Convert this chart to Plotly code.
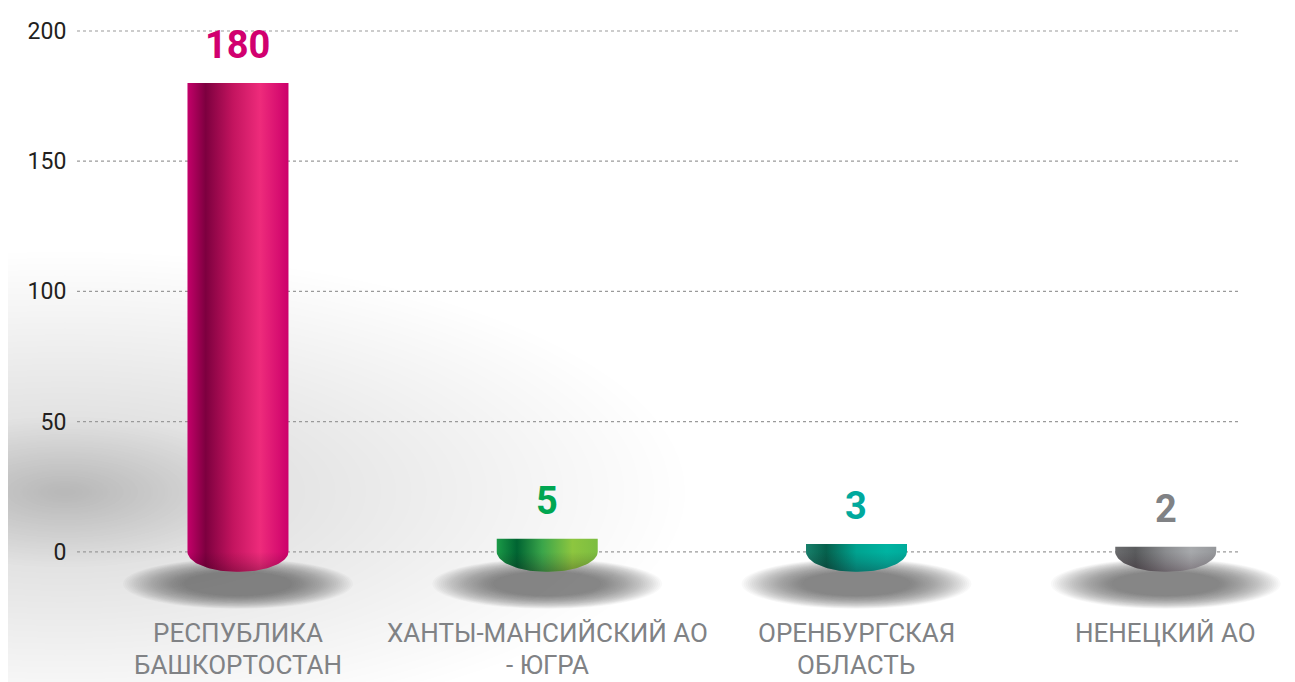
import numpy as np
import plotly.graph_objects as go

# ---------------- data ----------------
categories = ["РЕСПУБЛИКА\nБАШКОРТОСТАН", "ХАНТЫ-МАНСИЙСКИЙ АО\n- ЮГРА",
              "ОРЕНБУРГСКАЯ\nОБЛАСТЬ", "НЕНЕЦКИЙ АО"]
values = [180, 5, 3, 2]
y_ticks = [0, 50, 100, 150, 200]
label_colors = ["#d1006f", "#00a651", "#00a99d", "#808285"]
bar_gradients = [
    [[0, "#c4006a"], [0.18, "#7d003f"], [0.45, "#c3145f"], [0.72, "#ee2b7b"], [1, "#cc006b"]],
    [[0, "#1b9a47"], [0.20, "#006432"], [0.45, "#3aa54a"], [0.75, "#8dc63f"], [1, "#7cbd41"]],
    [[0, "#18806b"], [0.20, "#05604c"], [0.50, "#00a390"], [0.80, "#00b3a1"], [1, "#00ab9b"]],
    [[0, "#6b6c6e"], [0.20, "#5a5b5d"], [0.50, "#8b8c8f"], [0.75, "#a7a9ac"], [1, "#95979a"]],
]

# ---------------- layout geometry (page pixels) ----------------
PAGE_W, PAGE_H = 1295, 682
OFF = 8                      # default body margin of the html page
W, H = PAGE_W - OFF, PAGE_H - OFF
L, R, T, B = 75, 1295, 18, 656   # plot area in page pixels
X_RANGE = [-0.527, 3.418]
Y_RANGE = [-40, 205]
PX_X = (R - L) / (X_RANGE[1] - X_RANGE[0])
PX_Y = (B - T) / (Y_RANGE[1] - Y_RANGE[0])


def px_paper_x(px):
    return (px - L) / (R - L)


def px_paper_y(py):
    return (B - py) / (B - T)


bar_half = 50.5 / PX_X
cap_ry = 20 / PX_Y

fig = go.Figure()
shapes = []


def glow(cx, cy, rx_max, ry_max, n, op, color, smin=0.02):
    for k in range(n):
        s = 1 - (1 - smin) * k / n
        rx, ry = rx_max * s, ry_max * s
        shapes.append(dict(type="circle", xref="paper", yref="paper", layer="below",
                           x0=px_paper_x(cx - rx), x1=px_paper_x(cx + rx),
                           y0=px_paper_y(cy + ry), y1=px_paper_y(cy - ry),
                           fillcolor=color, opacity=op, line=dict(width=0)))


# background soft grey glow (broad haze + core)
glow(65, 492, 620, 240, 40, 0.0075, "rgb(120,121,124)")
glow(65, 492, 210, 75, 30, 0.009, "rgb(120,121,124)")

# dotted gridlines
for t in y_ticks:
    shapes.append(dict(type="line", xref="paper", yref="y", layer="below",
                       x0=px_paper_x(77), x1=px_paper_x(1240), y0=t, y1=t,
                       line=dict(color="#9a9a9a", width=1.2, dash="dot")))

# shadows under bars
n_sh = 30
sh_rx = 115 / PX_X
sh_ry = 25 / PX_Y
sh_cy = -32 / PX_Y
for i in range(len(values)):
    for k in range(n_sh):
        s = 1 - 0.55 * k / n_sh
        shapes.append(dict(type="circle", xref="x", yref="y", layer="below",
                           x0=i - sh_rx * s, x1=i + sh_rx * s,
                           y0=sh_cy - sh_ry * s, y1=sh_cy + sh_ry * s,
                           fillcolor="rgb(85,85,85)", opacity=0.034, line=dict(width=0)))

# cylinder bars
t = np.linspace(0, np.pi, 60)
for i, v in enumerate(values):
    xs = [i - bar_half, i + bar_half] + list(i + bar_half * np.cos(t)) + [i - bar_half]
    ys = [v, v] + list(-cap_ry * np.sin(t)) + [v]
    fig.add_trace(go.Scatter(
        x=xs, y=ys, mode="lines", fill="toself", line=dict(width=0),
        fillgradient=dict(type="horizontal", colorscale=bar_gradients[i]),
        hoverinfo="skip", showlegend=False))
    # bottom cap shading
    xs2 = list(i + bar_half * np.cos(t)) + [i + bar_half]
    ys2 = list(-cap_ry * np.sin(t)) + [0]
    fig.add_trace(go.Scatter(
        x=xs2, y=ys2, mode="lines", fill="toself", line=dict(width=0),
        fillgradient=dict(type="vertical",
                          colorscale=[[0, "rgba(30,0,15,0.28)"], [0.5, "rgba(30,0,15,0.12)"],
                                      [1, "rgba(30,0,15,0)"]]),
        hoverinfo="skip", showlegend=False))

annotations = []
for i, v in enumerate(values):
    annotations.append(dict(x=i, y=v, xref="x", yref="y", text=str(v), showarrow=False,
                            yanchor="bottom", yshift=14,
                            font=dict(family="Roboto", size=38, color=label_colors[i],
                                      weight="bold")))
    for j, line in enumerate(categories[i].split("\n")):
        annotations.append(dict(x=i, y=0, xref="x", yref="y", text=line, showarrow=False,
                                yanchor="bottom" if j == 0 else "top", yshift=-97,
                                borderpad=0,
                                font=dict(family="Roboto", size=26, color="#808285")))

fig.update_layout(
    width=W, height=H,
    margin=dict(l=L - OFF, r=PAGE_W - R, t=T - OFF, b=PAGE_H - B, pad=0),
    paper_bgcolor="white", plot_bgcolor="rgba(0,0,0,0)",
    shapes=shapes, annotations=annotations, showlegend=False, hovermode=False,
    xaxis=dict(range=X_RANGE, visible=False, fixedrange=True),
    yaxis=dict(range=Y_RANGE, tickvals=y_ticks, showgrid=False, zeroline=False,
               showline=False, ticks="outside", ticklen=3, tickcolor="rgba(0,0,0,0)",
               tickfont=dict(family="Roboto", size=23, color="#231f20"), fixedrange=True),
)

fig.write_html("out.html")
